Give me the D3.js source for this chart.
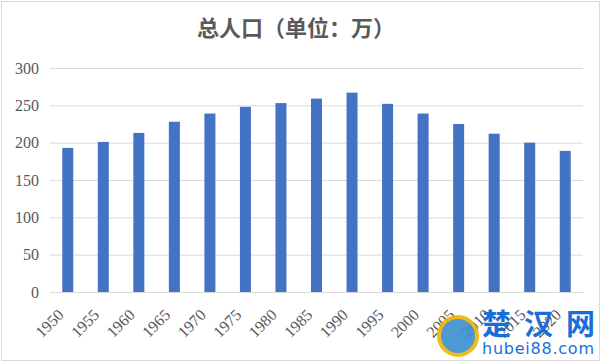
<!DOCTYPE html>
<html>
<head>
<meta charset="utf-8">
<script src="https://cdn.jsdelivr.net/npm/d3@7"></script>
<style>
  body { margin: 0; background: #fff; }
  .tick text { font-family: "Liberation Serif", "DejaVu Serif", serif; fill: #595959; }
</style>
</head>
<body>
<svg id="chart"></svg>
<script>
const years = ['1950', '1955', '1960', '1965', '1970', '1975', '1980', '1985',
  '1990', '1995', '2000', '2005', '2010', '2015', '2020'];
const population = [193, 201, 213, 228, 239, 248, 253, 259, 267, 252, 239, 225, 212, 200, 189];
const yTicks = [0, 50, 100, 150, 200, 250, 300];

const width = 602, height = 362;
const margin = { top: 68, right: 19, bottom: 70, left: 50 };
const innerW = width - margin.left - margin.right;
const innerH = height - margin.top - margin.bottom;

const svg = d3.select('#chart')
  .attr('width', width)
  .attr('height', height);

// outer border
svg.append('rect')
  .attr('x', 1.5).attr('y', 1.5)
  .attr('width', width - 4).attr('height', height - 3)
  .attr('fill', '#fff')
  .attr('stroke', '#d9d9d9');

svg.append('text')
  .attr('x', 296)
  .attr('y', 36)
  .attr('text-anchor', 'middle')
  .style('font-family', '"Noto Sans CJK SC", sans-serif')
  .style('font-weight', 'bold')
  .style('font-size', '22px')
  .style('fill', '#595959')
  .text('总人口（单位：万）');

const chart = svg.append('g')
  .attr('transform', `translate(${margin.left},${margin.top})`);

const x = d3.scaleBand()
  .domain(years)
  .range([0, innerW])
  .paddingInner(0.69)
  .paddingOuter(0.345);

const y = d3.scaleLinear()
  .domain([0, 300])
  .range([innerH, 0]);

const yAxis = d3.axisLeft(y)
  .tickValues(yTicks)
  .tickSize(-innerW)
  .tickPadding(11);

chart.append('g')
  .call(yAxis)
  .call(g => g.select('.domain').remove())
  .call(g => g.selectAll('.tick line').attr('stroke', '#d9d9d9').attr('stroke-width', 1))
  .call(g => g.selectAll('.tick text').style('font-size', '16px'));

chart.selectAll('.bar')
  .data(population)
  .join('rect')
  .attr('class', 'bar')
  .attr('x', (d, i) => x(years[i]))
  .attr('y', d => y(d))
  .attr('width', x.bandwidth())
  .attr('height', d => innerH - y(d))
  .attr('fill', '#4472c4');

const xAxis = d3.axisBottom(x).tickSize(0).tickPadding(0);

chart.append('g')
  .attr('transform', `translate(0,${innerH})`)
  .call(xAxis)
  .call(g => g.select('.domain').attr('stroke', '#d9d9d9'))
  .call(g => g.selectAll('.tick text')
    .style('font-size', '16px')
    .attr('text-anchor', 'end')
    .attr('y', 0)
    .attr('dy', '0.35em')
    .attr('transform', 'translate(-7,20) rotate(-45)'));

// site watermark
const wm = svg.append('g');
wm.append('circle')
  .attr('cx', 458).attr('cy', 336).attr('r', 19)
  .attr('fill', '#3a8fd0').attr('stroke', '#f0b400').attr('stroke-width', 4).attr('opacity', 0.9);
wm.append('text')
  .attr('x', 482).attr('y', 335)
  .style('font-family', '"Noto Sans CJK SC", sans-serif')
  .style('font-weight', 'bold')
  .style('font-size', '29px')
  .style('fill', '#1a6fd6')
  .attr('textLength', 113)
  .text('楚汉网');
wm.append('text')
  .attr('x', 482).attr('y', 354)
  .style('font-family', '"DejaVu Sans", sans-serif')
  .style('font-size', '16px')
  .style('fill', '#1a6fd6')
  .attr('textLength', 112)
  .text('hubei88.com');
</script>
</body>
</html>
